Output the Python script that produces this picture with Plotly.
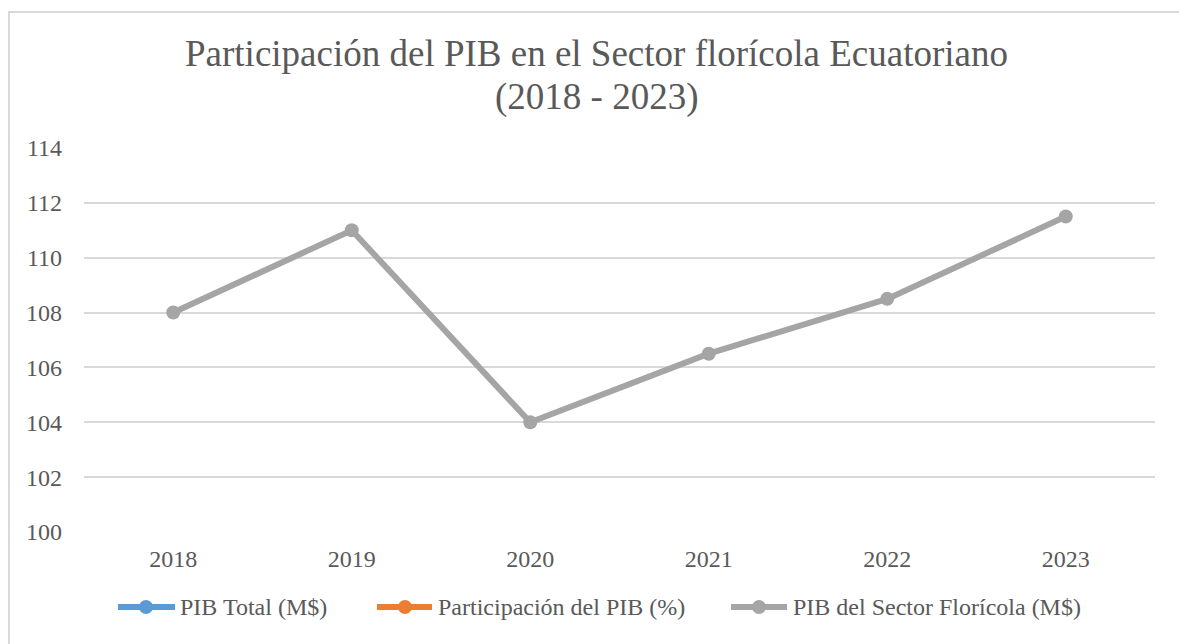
import plotly.graph_objects as go

years = ["2018", "2019", "2020", "2021", "2022", "2023"]
pib_sector = [108.0, 111.0, 104.0, 106.5, 108.5, 111.5]
pib_total = [None] * 6
participacion = [None] * 6
y_ticks = [100, 102, 104, 106, 108, 110, 112, 114]
title_lines = ["Participación del PIB en el Sector florícola Ecuatoriano", "(2018 - 2023)"]
series_names = ["PIB Total (M$)", "Participación del PIB (%)", "PIB del Sector Florícola (M$)"]
series_colors = ["#5B9BD5", "#ED7D31", "#A5A5A5"]

W, H = 1179, 644
L, R, T, B = 84, 24, 148, 112
pw, ph = W - L - R, H - T - B

def px_x(x):
    return (x - L) / pw

def px_y(y):
    return (H - B - y) / ph

font = "Liberation Serif"
grey = "#595959"

fig = go.Figure()
for name, vals, col in zip(series_names, [pib_total, participacion, pib_sector], series_colors):
    fig.add_trace(go.Scatter(x=years, y=vals, name=name, mode="lines+markers", showlegend=False,
                             line=dict(color=col, width=6), marker=dict(size=14, color=col)))

fig.update_layout(
    width=W, height=H,
    margin=dict(l=L, r=R, t=T, b=B, autoexpand=False),
    paper_bgcolor="white", plot_bgcolor="white",
    font=dict(family=font, color=grey, size=24),
    showlegend=False,
    xaxis=dict(type="category", range=[-0.5, 5.5], showgrid=False, showline=False, ticks="",
               automargin=False,
               tickfont=dict(family=font, size=24, color=grey), ticklabelstandoff=10),
    yaxis=dict(range=[100, 114], tickvals=y_ticks, showgrid=True, gridcolor="#D9D9D9", gridwidth=1.5,
               automargin=False,
               zeroline=False, showline=False, ticks="", tickfont=dict(family=font, size=24, color=grey),
               ticklabelstandoff=21),
)
for txt, yc in zip(title_lines, [54, 97]):
    fig.add_annotation(text=txt, xref="paper", yref="paper", x=px_x(596), y=px_y(yc),
                       xanchor="center", yanchor="middle", showarrow=False,
                       font=dict(family=font, size=37, color=grey))

# legend drawn manually to match the original spacing
leg_y = 607
leg_items = [(118, 175, 146, 178), (377, 432, 405, 436), (731, 787, 759, 791)]
for (x0, x1, xm, xt), name, col in zip(leg_items, series_names, series_colors):
    fig.add_shape(type="line", xref="paper", yref="paper", x0=px_x(x0), x1=px_x(x1),
                  y0=px_y(leg_y), y1=px_y(leg_y), line=dict(color=col, width=6))
    fig.add_shape(type="circle", xref="paper", yref="paper", x0=px_x(xm - 7), x1=px_x(xm + 7),
                  y0=px_y(leg_y + 7), y1=px_y(leg_y - 7), line=dict(color=col, width=0), fillcolor=col)
    fig.add_annotation(text=name, xref="paper", yref="paper", x=px_x(xt), y=px_y(leg_y),
                       xanchor="left", yanchor="middle", showarrow=False,
                       font=dict(family=font, size=24, color=grey))

fig.add_shape(type="rect", xref="paper", yref="paper",
              x0=px_x(9), x1=px_x(1200), y0=px_y(670), y1=px_y(12),
              line=dict(color="#D9D9D9", width=2), fillcolor="rgba(0,0,0,0)", layer="below")
fig.write_html("out.html", config={"displayModeBar": False},
               post_script="document.body.style.margin='0';document.body.style.overflow='hidden';")
